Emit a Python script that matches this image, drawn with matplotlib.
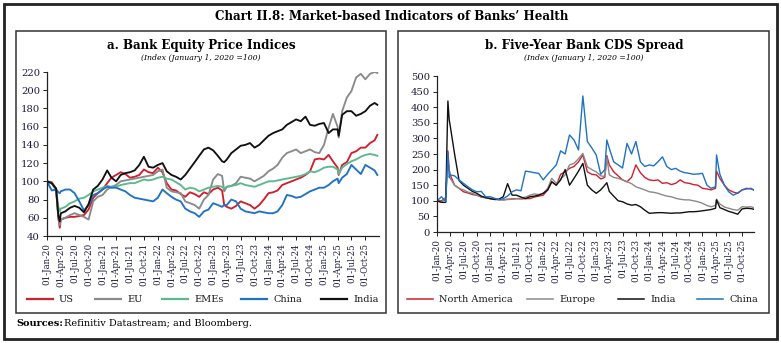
import matplotlib
matplotlib.use("Agg")
import matplotlib.pyplot as plt
import matplotlib.dates as mdates
from matplotlib.patches import Rectangle
from matplotlib.lines import Line2D
import pandas as pd

plt.rcParams['font.family'] = ['DejaVu Serif']

dates = pd.to_datetime([
    "2020-01-01", "2020-02-01", "2020-03-01", "2020-03-16", "2020-03-25", "2020-04-01",
    "2020-05-01", "2020-06-01", "2020-07-01", "2020-08-01", "2020-09-01", "2020-10-01",
    "2020-11-01", "2020-12-01", "2021-01-01", "2021-02-01", "2021-03-01", "2021-04-01",
    "2021-05-01", "2021-06-01", "2021-07-01", "2021-08-01", "2021-09-01", "2021-10-01",
    "2021-11-01", "2021-12-01", "2022-01-01", "2022-02-01", "2022-03-01", "2022-04-01",
    "2022-05-01", "2022-06-01", "2022-07-01", "2022-08-01", "2022-09-01", "2022-10-01",
    "2022-11-01", "2022-12-01", "2023-01-01", "2023-02-01", "2023-03-01", "2023-03-15",
    "2023-04-01", "2023-05-01", "2023-06-01", "2023-07-01", "2023-08-01", "2023-09-01",
    "2023-10-01", "2023-11-01", "2023-12-01", "2024-01-01", "2024-02-01", "2024-03-01",
    "2024-04-01", "2024-05-01", "2024-06-01", "2024-07-01", "2024-08-01", "2024-09-01",
    "2024-10-01", "2024-11-01", "2024-12-01", "2025-01-01", "2025-02-01", "2025-03-01",
    "2025-04-01", "2025-04-08", "2025-05-01", "2025-06-01", "2025-07-01", "2025-08-01",
    "2025-09-01", "2025-10-01", "2025-11-01", "2025-12-01", "2025-12-19",
])

# Panel a: Bank equity price indices
eq_us = [100, 99, 92, 60, 49, 58, 60, 61, 61, 62, 63, 69, 82, 87, 91, 98, 104, 107, 110, 108,
         104, 105, 107, 113, 110, 109, 115, 110, 98, 91, 90, 86, 83, 88, 86, 83, 88, 86, 91, 93,
         90, 74, 72, 70, 73, 78, 76, 74, 70, 74, 80, 87, 88, 90, 96, 98, 100, 102, 104, 107,
         111, 124, 125, 124, 129, 122, 115, 107, 118, 121, 131, 133, 137, 137, 142, 145, 151]
eq_eu = [100, 98, 90, 60, 52, 58, 60, 63, 65, 63, 61, 58, 78, 83, 85, 91, 94, 96, 100, 101,
         102, 103, 104, 105, 106, 107, 111, 113, 93, 89, 88, 87, 78, 76, 74, 70, 80, 85, 102, 108,
         106, 89, 94, 95, 98, 105, 104, 103, 100, 103, 106, 111, 114, 118, 126, 131, 133, 135, 131, 133,
         135, 132, 131, 140, 159, 174, 160, 148, 177, 192, 199, 214, 218, 212, 218, 220, 219]
eq_emes = [100, 98, 92, 72, 67, 70, 72, 76, 78, 81, 82, 85, 89, 91, 93, 95, 94, 94, 96, 97,
           98, 98, 100, 102, 101, 102, 104, 105, 103, 102, 99, 96, 91, 93, 92, 89, 91, 93, 94, 95,
           94, 92, 94, 95, 96, 98, 96, 95, 94, 96, 98, 100, 100, 101, 102, 103, 104, 105, 106, 108,
           111, 110, 112, 115, 116, 116, 113, 108, 115, 119, 122, 124, 127, 129, 130, 129, 128]
eq_china = [100, 90, 91, 88, 87, 89, 91, 91, 87, 78, 68, 74, 85, 87, 91, 94, 93, 93, 91, 89,
            85, 82, 81, 80, 79, 78, 82, 91, 87, 83, 80, 78, 70, 67, 65, 61, 67, 69, 76, 74,
            72, 74, 74, 80, 78, 70, 67, 66, 65, 67, 66, 65, 65, 67, 74, 85, 84, 82, 83, 86,
            89, 91, 93, 93, 96, 100, 103, 98, 104, 108, 118, 113, 108, 118, 115, 112, 107]
eq_india = [100, 98, 92, 62, 56, 65, 67, 71, 73, 71, 66, 75, 91, 95, 102, 112, 104, 100, 107, 109,
            110, 112, 118, 127, 116, 115, 118, 120, 111, 107, 105, 102, 107, 114, 121, 128, 135, 137, 134, 128,
            122, 121, 124, 131, 135, 139, 140, 142, 137, 140, 145, 150, 153, 155, 157, 162, 165, 168, 166, 171,
            162, 161, 163, 164, 153, 157, 157, 150, 173, 177, 177, 172, 174, 177, 183, 186, 184]

# Panel b: Five-year bank CDS spread
cds_na = [100, 100, 110, 260, 200, 183, 150, 140, 129, 125, 120, 118, 112, 110, 107, 105, 104, 103, 105, 106,
          107, 106, 107, 107, 112, 115, 118, 135, 161, 150, 185, 193, 204, 210, 225, 247, 193, 185, 183, 170,
          175, 245, 215, 193, 180, 167, 161, 175, 215, 190, 175, 167, 165, 167, 156, 158, 152, 156, 167, 158,
          156, 152, 150, 140, 138, 135, 140, 195, 172, 150, 135, 128, 124, 135, 140, 138, 135]
cds_europe = [100, 95, 110, 225, 200, 172, 150, 140, 135, 128, 124, 118, 112, 110, 107, 105, 104, 103, 104, 105,
              107, 108, 112, 118, 122, 120, 124, 140, 172, 156, 170, 183, 215, 220, 235, 252, 209, 200, 193, 180,
              178, 240, 183, 175, 172, 167, 161, 155, 145, 140, 135, 129, 127, 124, 119, 115, 113, 108, 105, 103,
              103, 100, 97, 92, 85, 81, 85, 105, 90, 80, 76, 72, 70, 81, 80, 81, 78]
cds_india = [100, 95, 95, 420, 360, 340, 250, 165, 150, 140, 130, 124, 115, 110, 107, 104, 105, 113, 155, 118,
             118, 112, 107, 113, 115, 118, 124, 135, 161, 150, 167, 200, 150, 172, 195, 220, 150, 135, 124, 135,
             150, 158, 130, 115, 100, 97, 90, 86, 88, 81, 70, 60, 61, 62, 62, 61, 60, 61, 61, 63,
             65, 65, 66, 68, 70, 72, 76, 103, 78, 72, 66, 62, 57, 74, 76, 75, 73]
cds_china = [100, 113, 97, 255, 175, 183, 180, 167, 156, 145, 135, 129, 130, 113, 113, 108, 103, 107, 115, 129,
             135, 132, 195, 193, 190, 188, 167, 185, 199, 215, 260, 250, 311, 295, 263, 436, 290, 270, 247, 185,
             200, 295, 268, 225, 215, 205, 284, 250, 290, 225, 210, 215, 212, 225, 241, 210, 200, 204, 195, 190,
             188, 185, 186, 188, 150, 140, 145, 247, 185, 150, 129, 118, 125, 135, 138, 140, 135]

RED = "#d0202e"
GRAY = "#8a8a8a"
GREEN = "#5cb98c"
BLUE = "#1f72c4"
BLACK = "#111111"
TICKC = "#1c1c3a"

W, H = 781, 343
fig = plt.figure(figsize=(W / 100, H / 100), dpi=100)

def fx(px):
    return px / W

def fy(py):
    return 1 - py / H

# outer frame and panel boxes
fig.patches.append(Rectangle((fx(4), fy(339)), fx(773), 335 / H, transform=fig.transFigure,
                             fill=False, lw=2.0, edgecolor="#222222"))
fig.patches.append(Rectangle((fx(16), fy(313)), fx(370), 282 / H, transform=fig.transFigure,
                             fill=False, lw=1.1, edgecolor="#333333"))
fig.patches.append(Rectangle((fx(398), fy(313)), fx(371), 282 / H, transform=fig.transFigure,
                             fill=False, lw=1.1, edgecolor="#333333"))

fig.text(fx(392), fy(17), "Chart II.8: Market-based Indicators of Banks\u2019 Health",
         ha="center", va="center", fontsize=8.6, fontweight="bold")
fig.text(fx(201), fy(45), "a. Bank Equity Price Indices", ha="center", va="center",
         fontsize=8.6, fontweight="bold")
fig.text(fx(201), fy(58), "(Index (January 1, 2020 =100)", ha="center", va="center",
         fontsize=5.6, style="italic")
fig.text(fx(584), fy(45), "b. Five-Year Bank CDS Spread", ha="center", va="center",
         fontsize=8.6, fontweight="bold")
fig.text(fx(584), fy(58), "(Index (January 1, 2020 =100)", ha="center", va="center",
         fontsize=5.6, style="italic")

fig.text(fx(16), fy(324), "Sources:", ha="left", va="center", fontsize=7, fontweight="bold")
fig.text(fx(64), fy(324), "Refinitiv Datastream; and Bloomberg.", ha="left", va="center", fontsize=7)

axA = fig.add_axes([fx(47), fy(236), fx(332), 164 / H])
axB = fig.add_axes([fx(437), fy(232), fx(317), 156 / H])

def style(ax):
    for s in ["top", "right"]:
        ax.spines[s].set_visible(False)
    for s in ["left", "bottom"]:
        ax.spines[s].set_linewidth(0.9)
        ax.spines[s].set_color("#222222")
    ax.xaxis.set_major_locator(mdates.MonthLocator(bymonth=[1, 4, 7, 10], bymonthday=1))
    ax.xaxis.set_major_formatter(mdates.DateFormatter("%d-%b-%y"))
    ax.tick_params(axis="x", rotation=90, labelsize=6.2, length=3, width=0.7, pad=2,
                   colors="#222222", labelcolor=TICKC)
    ax.tick_params(axis="y", labelsize=7.2, length=3, width=0.7, pad=2,
                   colors="#222222", labelcolor=TICKC)
    ax.set_facecolor("none")

style(axA)
style(axB)

lwA = 1.35
axA.plot(dates, eq_us, color=RED, lw=lwA, label="US")
axA.plot(dates, eq_eu, color=GRAY, lw=lwA, label="EU")
axA.plot(dates, eq_emes, color=GREEN, lw=lwA, label="EMEs")
axA.plot(dates, eq_china, color=BLUE, lw=lwA, label="China")
axA.plot(dates, eq_india, color=BLACK, lw=lwA, label="India")
axA.set_ylim(40, 220)
axA.set_yticks(range(40, 221, 20))
axA.set_xlim(pd.Timestamp("2020-01-01"), pd.Timestamp("2025-12-30"))

lwB = 1.0
axB.plot(dates, cds_na, color=RED, lw=lwB, label="North America")
axB.plot(dates, cds_europe, color=GRAY, lw=lwB, label="Europe")
axB.plot(dates, cds_india, color=BLACK, lw=lwB, label="India")
axB.plot(dates, cds_china, color=BLUE, lw=lwB, label="China")
axB.set_ylim(0, 500)
axB.set_yticks(range(0, 501, 50))
axB.set_xlim(pd.Timestamp("2020-01-01"), pd.Timestamp("2025-12-22"))

def legend_row(items, starts, y, lw):
    for (lab, col), x0 in zip(items, starts):
        fig.add_artist(Line2D([fx(x0), fx(x0 + 26)], [fy(y), fy(y)], transform=fig.transFigure,
                              color=col, lw=lw))
        fig.text(fx(x0 + 32), fy(y), lab, ha="left", va="center", fontsize=7, color="#1a1a1a")

legend_row([("US", RED), ("EU", GRAY), ("EMEs", GREEN), ("China", BLUE), ("India", BLACK)],
           [27, 95, 162, 241, 321], 299, 1.6)
legend_row([("North America", RED), ("Europe", GRAY), ("India", BLACK), ("China", BLUE)],
           [407, 527, 618, 697], 299, 1.1)

fig.savefig("out.png", dpi=100)
